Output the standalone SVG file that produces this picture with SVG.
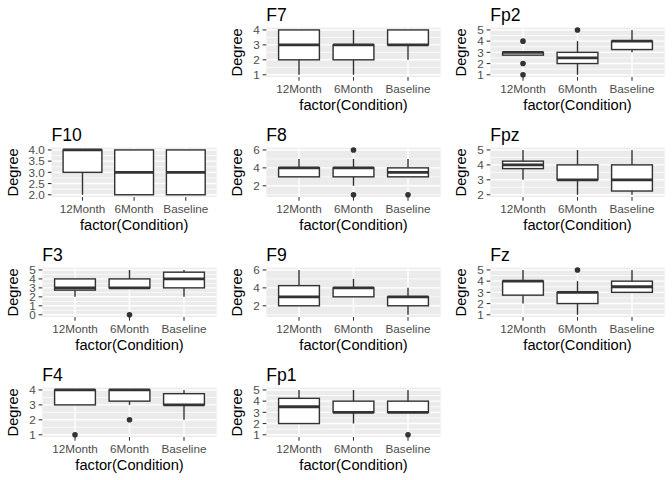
<svg xmlns="http://www.w3.org/2000/svg" width="672" height="480" viewBox="0 0 672 480">
<style>
text{font-family:"Liberation Sans",Arial,sans-serif}
.bg{fill:#EBEBEB}
.gm{stroke:#FFFFFF;stroke-width:1.42}
.gn{stroke:#FFFFFF;stroke-width:0.71}
.tk{stroke:#333333;stroke-width:1.07}
.wk{stroke:#333333;stroke-width:1.42}
.bx{fill:#FFFFFF;stroke:#333333;stroke-width:1.42}
.md{stroke:#333333;stroke-width:2.84}
.ol{fill:#333333}
.tt{font-size:17.6px;fill:#000}
.at{font-size:14.67px;fill:#000}
.yl{font-size:11.73px;fill:#4D4D4D;text-anchor:end}
.xl{font-size:11.73px;fill:#4D4D4D;text-anchor:middle}
</style>
<defs>
<g id="xaxis">
<line class="tk" x1="75" y1="77" x2="75" y2="80.67"/>
<line class="tk" x1="129.5" y1="77" x2="129.5" y2="80.67"/>
<line class="tk" x1="184" y1="77" x2="184" y2="80.67"/>
<text class="xl" x="75" y="92.5">12Month</text>
<text class="xl" x="129.5" y="92.5">6Month</text>
<text class="xl" x="184" y="92.5">Baseline</text>
<text class="at" x="129.5" y="109.5" text-anchor="middle">factor(Condition)</text>
<text class="at" transform="translate(18,52.35) rotate(-90)" text-anchor="middle">Degree</text>
<line class="gm" x1="75" y1="27.7" x2="75" y2="77"/>
<line class="gm" x1="129.5" y1="27.7" x2="129.5" y2="77"/>
<line class="gm" x1="184" y1="27.7" x2="184" y2="77"/>
</g>
</defs>

<g id="F7" transform="translate(224,0)">
<text class="tt" x="42.3" y="20.5">F7</text>
<rect class="bg" x="42.3" y="27.7" width="174.4" height="49.3"/>
<line class="gn" x1="42.3" x2="216.7" y1="67.29" y2="67.29"/><line class="gn" x1="42.3" x2="216.7" y1="52.35" y2="52.35"/><line class="gn" x1="42.3" x2="216.7" y1="37.41" y2="37.41"/>
<line class="gm" x1="42.3" x2="216.7" y1="74.76" y2="74.76"/><line class="gm" x1="42.3" x2="216.7" y1="59.82" y2="59.82"/><line class="gm" x1="42.3" x2="216.7" y1="44.88" y2="44.88"/><line class="gm" x1="42.3" x2="216.7" y1="29.94" y2="29.94"/>
<use href="#xaxis"/>
<line class="tk" x1="38.63" x2="42.3" y1="74.76" y2="74.76"/><line class="tk" x1="38.63" x2="42.3" y1="59.82" y2="59.82"/><line class="tk" x1="38.63" x2="42.3" y1="44.88" y2="44.88"/><line class="tk" x1="38.63" x2="42.3" y1="29.94" y2="29.94"/>
<text class="yl" x="35.7" y="78.96">1</text><text class="yl" x="35.7" y="64.02">2</text><text class="yl" x="35.7" y="49.08">3</text><text class="yl" x="35.7" y="34.14">4</text>
<line class="wk" x1="75" y1="59.82" x2="75" y2="74.76"/><rect class="bx" x="54.6" y="29.94" width="40.8" height="29.88"/><line class="md" x1="54.6" x2="95.4" y1="44.88" y2="44.88"/>
<line class="wk" x1="129.5" y1="29.94" x2="129.5" y2="74.76"/><rect class="bx" x="109.1" y="44.88" width="40.8" height="14.94"/><line class="md" x1="109.1" x2="149.9" y1="44.88" y2="44.88"/>
<line class="wk" x1="184" y1="44.88" x2="184" y2="59.82"/><rect class="bx" x="163.6" y="29.94" width="40.8" height="14.94"/><line class="md" x1="163.6" x2="204.4" y1="44.88" y2="44.88"/>
</g>

<g id="Fp2" transform="translate(448,0)">
<text class="tt" x="42.3" y="20.5">Fp2</text>
<rect class="bg" x="42.3" y="27.7" width="174.4" height="49.3"/>
<line class="gn" x1="42.3" x2="216.7" y1="69.16" y2="69.16"/><line class="gn" x1="42.3" x2="216.7" y1="57.95" y2="57.95"/><line class="gn" x1="42.3" x2="216.7" y1="46.75" y2="46.75"/><line class="gn" x1="42.3" x2="216.7" y1="35.54" y2="35.54"/>
<line class="gm" x1="42.3" x2="216.7" y1="74.76" y2="74.76"/><line class="gm" x1="42.3" x2="216.7" y1="63.55" y2="63.55"/><line class="gm" x1="42.3" x2="216.7" y1="52.35" y2="52.35"/><line class="gm" x1="42.3" x2="216.7" y1="41.15" y2="41.15"/><line class="gm" x1="42.3" x2="216.7" y1="29.94" y2="29.94"/>
<use href="#xaxis"/>
<line class="tk" x1="38.63" x2="42.3" y1="74.76" y2="74.76"/><line class="tk" x1="38.63" x2="42.3" y1="63.55" y2="63.55"/><line class="tk" x1="38.63" x2="42.3" y1="52.35" y2="52.35"/><line class="tk" x1="38.63" x2="42.3" y1="41.15" y2="41.15"/><line class="tk" x1="38.63" x2="42.3" y1="29.94" y2="29.94"/>
<text class="yl" x="35.7" y="78.96">1</text><text class="yl" x="35.7" y="67.75">2</text><text class="yl" x="35.7" y="56.55">3</text><text class="yl" x="35.7" y="45.35">4</text><text class="yl" x="35.7" y="34.14">5</text>
<rect class="bx" x="54.6" y="52.35" width="40.8" height="2.8"/><line class="md" x1="54.6" x2="95.4" y1="52.35" y2="52.35"/>
<circle class="ol" cx="75" cy="41.15" r="2.8"/><circle class="ol" cx="75" cy="63.55" r="2.8"/><circle class="ol" cx="75" cy="74.76" r="2.8"/>
<line class="wk" x1="129.5" y1="41.15" x2="129.5" y2="74.76"/><rect class="bx" x="109.1" y="52.35" width="40.8" height="11.2"/><line class="md" x1="109.1" x2="149.9" y1="57.95" y2="57.95"/>
<circle class="ol" cx="129.5" cy="29.94" r="2.8"/>
<line class="wk" x1="184" y1="29.94" x2="184" y2="52.35"/><rect class="bx" x="163.6" y="41.15" width="40.8" height="8.4"/><line class="md" x1="163.6" x2="204.4" y1="41.15" y2="41.15"/>
</g>

<g id="F10" transform="translate(0,120)">
<text class="tt" x="51.5" y="20.5">F10</text>
<rect class="bg" x="51.5" y="27.7" width="165.2" height="49.3"/>
<line class="gn" x1="51.5" x2="216.7" y1="69.16" y2="69.16"/><line class="gn" x1="51.5" x2="216.7" y1="57.95" y2="57.95"/><line class="gn" x1="51.5" x2="216.7" y1="46.75" y2="46.75"/><line class="gn" x1="51.5" x2="216.7" y1="35.54" y2="35.54"/>
<line class="gm" x1="51.5" x2="216.7" y1="74.76" y2="74.76"/><line class="gm" x1="51.5" x2="216.7" y1="63.55" y2="63.55"/><line class="gm" x1="51.5" x2="216.7" y1="52.35" y2="52.35"/><line class="gm" x1="51.5" x2="216.7" y1="41.15" y2="41.15"/><line class="gm" x1="51.5" x2="216.7" y1="29.94" y2="29.94"/>
<line class="gm" x1="82.5" y1="27.7" x2="82.5" y2="77"/><line class="gm" x1="134.1" y1="27.7" x2="134.1" y2="77"/><line class="gm" x1="185.8" y1="27.7" x2="185.8" y2="77"/>
<line class="tk" x1="82.5" y1="77" x2="82.5" y2="80.67"/><line class="tk" x1="134.1" y1="77" x2="134.1" y2="80.67"/><line class="tk" x1="185.8" y1="77" x2="185.8" y2="80.67"/>
<text class="xl" x="82.5" y="92.5">12Month</text><text class="xl" x="134.1" y="92.5">6Month</text><text class="xl" x="185.8" y="92.5">Baseline</text>
<text class="at" x="134.1" y="109.5" text-anchor="middle">factor(Condition)</text>
<text class="at" transform="translate(18,52.35) rotate(-90)" text-anchor="middle">Degree</text>
<line class="tk" x1="47.83" x2="51.5" y1="74.76" y2="74.76"/><line class="tk" x1="47.83" x2="51.5" y1="63.55" y2="63.55"/><line class="tk" x1="47.83" x2="51.5" y1="52.35" y2="52.35"/><line class="tk" x1="47.83" x2="51.5" y1="41.15" y2="41.15"/><line class="tk" x1="47.83" x2="51.5" y1="29.94" y2="29.94"/>
<text class="yl" x="44.9" y="78.96">2.0</text><text class="yl" x="44.9" y="67.75">2.5</text><text class="yl" x="44.9" y="56.55">3.0</text><text class="yl" x="44.9" y="45.35">3.5</text><text class="yl" x="44.9" y="34.14">4.0</text>
<line class="wk" x1="82.5" y1="52.35" x2="82.5" y2="74.76"/><rect class="bx" x="63.1" y="29.94" width="38.8" height="22.41"/><line class="md" x1="63.1" x2="101.9" y1="29.94" y2="29.94"/>
<rect class="bx" x="114.7" y="29.94" width="38.8" height="44.82"/><line class="md" x1="114.7" x2="153.5" y1="52.35" y2="52.35"/>
<rect class="bx" x="166.4" y="29.94" width="38.8" height="44.82"/><line class="md" x1="166.4" x2="205.2" y1="52.35" y2="52.35"/>
</g>

<g id="F8" transform="translate(224,120)">
<text class="tt" x="42.3" y="20.5">F8</text>
<rect class="bg" x="42.3" y="27.7" width="174.4" height="49.3"/>
<line class="gn" x1="42.3" x2="216.7" y1="74.76" y2="74.76"/><line class="gn" x1="42.3" x2="216.7" y1="56.83" y2="56.83"/><line class="gn" x1="42.3" x2="216.7" y1="38.9" y2="38.9"/>
<line class="gm" x1="42.3" x2="216.7" y1="65.8" y2="65.8"/><line class="gm" x1="42.3" x2="216.7" y1="47.87" y2="47.87"/><line class="gm" x1="42.3" x2="216.7" y1="29.94" y2="29.94"/>
<use href="#xaxis"/>
<line class="tk" x1="38.63" x2="42.3" y1="65.8" y2="65.8"/><line class="tk" x1="38.63" x2="42.3" y1="47.87" y2="47.87"/><line class="tk" x1="38.63" x2="42.3" y1="29.94" y2="29.94"/>
<text class="yl" x="35.7" y="70">2</text><text class="yl" x="35.7" y="52.07">4</text><text class="yl" x="35.7" y="34.14">6</text>
<line class="wk" x1="75" y1="38.9" x2="75" y2="47.87"/><rect class="bx" x="54.6" y="47.87" width="40.8" height="8.96"/><line class="md" x1="54.6" x2="95.4" y1="47.87" y2="47.87"/>
<line class="wk" x1="129.5" y1="38.9" x2="129.5" y2="65.8"/><rect class="bx" x="109.1" y="47.87" width="40.8" height="8.96"/><line class="md" x1="109.1" x2="149.9" y1="47.87" y2="47.87"/>
<circle class="ol" cx="129.5" cy="29.94" r="2.8"/><circle class="ol" cx="129.5" cy="74.76" r="2.8"/>
<line class="wk" x1="184" y1="38.9" x2="184" y2="47.87"/><rect class="bx" x="163.6" y="47.87" width="40.8" height="8.96"/><line class="md" x1="163.6" x2="204.4" y1="52.35" y2="52.35"/>
<circle class="ol" cx="184" cy="74.76" r="2.8"/>
</g>

<g id="Fpz" transform="translate(448,120)">
<text class="tt" x="42.3" y="20.5">Fpz</text>
<rect class="bg" x="42.3" y="27.7" width="174.4" height="49.3"/>
<line class="gn" x1="42.3" x2="216.7" y1="67.29" y2="67.29"/><line class="gn" x1="42.3" x2="216.7" y1="52.35" y2="52.35"/><line class="gn" x1="42.3" x2="216.7" y1="37.41" y2="37.41"/>
<line class="gm" x1="42.3" x2="216.7" y1="74.76" y2="74.76"/><line class="gm" x1="42.3" x2="216.7" y1="59.82" y2="59.82"/><line class="gm" x1="42.3" x2="216.7" y1="44.88" y2="44.88"/><line class="gm" x1="42.3" x2="216.7" y1="29.94" y2="29.94"/>
<use href="#xaxis"/>
<line class="tk" x1="38.63" x2="42.3" y1="74.76" y2="74.76"/><line class="tk" x1="38.63" x2="42.3" y1="59.82" y2="59.82"/><line class="tk" x1="38.63" x2="42.3" y1="44.88" y2="44.88"/><line class="tk" x1="38.63" x2="42.3" y1="29.94" y2="29.94"/>
<text class="yl" x="35.7" y="78.96">2</text><text class="yl" x="35.7" y="64.02">3</text><text class="yl" x="35.7" y="49.08">4</text><text class="yl" x="35.7" y="34.14">5</text>
<line class="wk" x1="75" y1="29.94" x2="75" y2="59.82"/><rect class="bx" x="54.6" y="41.15" width="40.8" height="7.47"/><line class="md" x1="54.6" x2="95.4" y1="44.88" y2="44.88"/>
<line class="wk" x1="129.5" y1="29.94" x2="129.5" y2="74.76"/><rect class="bx" x="109.1" y="44.88" width="40.8" height="14.94"/><line class="md" x1="109.1" x2="149.9" y1="59.82" y2="59.82"/>
<line class="wk" x1="184" y1="29.94" x2="184" y2="74.76"/><rect class="bx" x="163.6" y="44.88" width="40.8" height="26.14"/><line class="md" x1="163.6" x2="204.4" y1="59.82" y2="59.82"/>
</g>

<g id="F3" transform="translate(0,240)">
<text class="tt" x="42.3" y="20.5">F3</text>
<rect class="bg" x="42.3" y="27.7" width="174.4" height="49.3"/>
<line class="gn" x1="42.3" x2="216.7" y1="70.28" y2="70.28"/><line class="gn" x1="42.3" x2="216.7" y1="61.31" y2="61.31"/><line class="gn" x1="42.3" x2="216.7" y1="52.35" y2="52.35"/><line class="gn" x1="42.3" x2="216.7" y1="43.39" y2="43.39"/><line class="gn" x1="42.3" x2="216.7" y1="34.42" y2="34.42"/>
<line class="gm" x1="42.3" x2="216.7" y1="74.76" y2="74.76"/><line class="gm" x1="42.3" x2="216.7" y1="65.8" y2="65.8"/><line class="gm" x1="42.3" x2="216.7" y1="56.83" y2="56.83"/><line class="gm" x1="42.3" x2="216.7" y1="47.87" y2="47.87"/><line class="gm" x1="42.3" x2="216.7" y1="38.9" y2="38.9"/><line class="gm" x1="42.3" x2="216.7" y1="29.94" y2="29.94"/>
<use href="#xaxis"/>
<line class="tk" x1="38.63" x2="42.3" y1="74.76" y2="74.76"/><line class="tk" x1="38.63" x2="42.3" y1="65.8" y2="65.8"/><line class="tk" x1="38.63" x2="42.3" y1="56.83" y2="56.83"/><line class="tk" x1="38.63" x2="42.3" y1="47.87" y2="47.87"/><line class="tk" x1="38.63" x2="42.3" y1="38.9" y2="38.9"/><line class="tk" x1="38.63" x2="42.3" y1="29.94" y2="29.94"/>
<text class="yl" x="35.7" y="78.96">0</text><text class="yl" x="35.7" y="70">1</text><text class="yl" x="35.7" y="61.03">2</text><text class="yl" x="35.7" y="52.07">3</text><text class="yl" x="35.7" y="43.1">4</text><text class="yl" x="35.7" y="34.14">5</text>
<line class="wk" x1="75" y1="50.11" x2="75" y2="56.83"/><rect class="bx" x="54.6" y="38.9" width="40.8" height="11.21"/><line class="md" x1="54.6" x2="95.4" y1="47.87" y2="47.87"/>
<line class="wk" x1="129.5" y1="29.94" x2="129.5" y2="47.87"/><rect class="bx" x="109.1" y="38.9" width="40.8" height="8.97"/><line class="md" x1="109.1" x2="149.9" y1="47.87" y2="47.87"/>
<circle class="ol" cx="129.5" cy="74.76" r="2.8"/>
<line class="wk" x1="184" y1="29.94" x2="184" y2="56.83"/><rect class="bx" x="163.6" y="32.18" width="40.8" height="15.69"/><line class="md" x1="163.6" x2="204.4" y1="38.9" y2="38.9"/>
</g>

<g id="F9" transform="translate(224,240)">
<text class="tt" x="42.3" y="20.5">F9</text>
<rect class="bg" x="42.3" y="27.7" width="174.4" height="49.3"/>
<line class="gn" x1="42.3" x2="216.7" y1="74.76" y2="74.76"/><line class="gn" x1="42.3" x2="216.7" y1="56.83" y2="56.83"/><line class="gn" x1="42.3" x2="216.7" y1="38.9" y2="38.9"/>
<line class="gm" x1="42.3" x2="216.7" y1="65.8" y2="65.8"/><line class="gm" x1="42.3" x2="216.7" y1="47.87" y2="47.87"/><line class="gm" x1="42.3" x2="216.7" y1="29.94" y2="29.94"/>
<use href="#xaxis"/>
<line class="tk" x1="38.63" x2="42.3" y1="65.8" y2="65.8"/><line class="tk" x1="38.63" x2="42.3" y1="47.87" y2="47.87"/><line class="tk" x1="38.63" x2="42.3" y1="29.94" y2="29.94"/>
<text class="yl" x="35.7" y="70">2</text><text class="yl" x="35.7" y="52.07">4</text><text class="yl" x="35.7" y="34.14">6</text>
<line class="wk" x1="75" y1="29.94" x2="75" y2="45.63"/><rect class="bx" x="54.6" y="45.63" width="40.8" height="20.17"/><line class="md" x1="54.6" x2="95.4" y1="56.83" y2="56.83"/>
<line class="wk" x1="129.5" y1="38.9" x2="129.5" y2="47.87"/><rect class="bx" x="109.1" y="47.87" width="40.8" height="8.96"/><line class="md" x1="109.1" x2="149.9" y1="47.87" y2="47.87"/>
<line class="wk" x1="184" y1="47.87" x2="184" y2="74.76"/><rect class="bx" x="163.6" y="56.83" width="40.8" height="8.97"/><line class="md" x1="163.6" x2="204.4" y1="56.83" y2="56.83"/>
</g>

<g id="Fz" transform="translate(448,240)">
<text class="tt" x="42.3" y="20.5">Fz</text>
<rect class="bg" x="42.3" y="27.7" width="174.4" height="49.3"/>
<line class="gn" x1="42.3" x2="216.7" y1="69.16" y2="69.16"/><line class="gn" x1="42.3" x2="216.7" y1="57.95" y2="57.95"/><line class="gn" x1="42.3" x2="216.7" y1="46.75" y2="46.75"/><line class="gn" x1="42.3" x2="216.7" y1="35.54" y2="35.54"/>
<line class="gm" x1="42.3" x2="216.7" y1="74.76" y2="74.76"/><line class="gm" x1="42.3" x2="216.7" y1="63.55" y2="63.55"/><line class="gm" x1="42.3" x2="216.7" y1="52.35" y2="52.35"/><line class="gm" x1="42.3" x2="216.7" y1="41.15" y2="41.15"/><line class="gm" x1="42.3" x2="216.7" y1="29.94" y2="29.94"/>
<use href="#xaxis"/>
<line class="tk" x1="38.63" x2="42.3" y1="74.76" y2="74.76"/><line class="tk" x1="38.63" x2="42.3" y1="63.55" y2="63.55"/><line class="tk" x1="38.63" x2="42.3" y1="52.35" y2="52.35"/><line class="tk" x1="38.63" x2="42.3" y1="41.15" y2="41.15"/><line class="tk" x1="38.63" x2="42.3" y1="29.94" y2="29.94"/>
<text class="yl" x="35.7" y="78.96">1</text><text class="yl" x="35.7" y="67.75">2</text><text class="yl" x="35.7" y="56.55">3</text><text class="yl" x="35.7" y="45.35">4</text><text class="yl" x="35.7" y="34.14">5</text>
<line class="wk" x1="75" y1="29.94" x2="75" y2="63.55"/><rect class="bx" x="54.6" y="41.15" width="40.8" height="14"/><line class="md" x1="54.6" x2="95.4" y1="41.15" y2="41.15"/>
<line class="wk" x1="129.5" y1="41.15" x2="129.5" y2="74.76"/><rect class="bx" x="109.1" y="52.35" width="40.8" height="11.2"/><line class="md" x1="109.1" x2="149.9" y1="52.35" y2="52.35"/>
<circle class="ol" cx="129.5" cy="29.94" r="2.8"/>
<line class="wk" x1="184" y1="29.94" x2="184" y2="52.35"/><rect class="bx" x="163.6" y="41.15" width="40.8" height="11.2"/><line class="md" x1="163.6" x2="204.4" y1="46.75" y2="46.75"/>
</g>

<g id="F4" transform="translate(0,360)">
<text class="tt" x="42.3" y="20.5">F4</text>
<rect class="bg" x="42.3" y="27.7" width="174.4" height="49.3"/>
<line class="gn" x1="42.3" x2="216.7" y1="67.29" y2="67.29"/><line class="gn" x1="42.3" x2="216.7" y1="52.35" y2="52.35"/><line class="gn" x1="42.3" x2="216.7" y1="37.41" y2="37.41"/>
<line class="gm" x1="42.3" x2="216.7" y1="74.76" y2="74.76"/><line class="gm" x1="42.3" x2="216.7" y1="59.82" y2="59.82"/><line class="gm" x1="42.3" x2="216.7" y1="44.88" y2="44.88"/><line class="gm" x1="42.3" x2="216.7" y1="29.94" y2="29.94"/>
<use href="#xaxis"/>
<line class="tk" x1="38.63" x2="42.3" y1="74.76" y2="74.76"/><line class="tk" x1="38.63" x2="42.3" y1="59.82" y2="59.82"/><line class="tk" x1="38.63" x2="42.3" y1="44.88" y2="44.88"/><line class="tk" x1="38.63" x2="42.3" y1="29.94" y2="29.94"/>
<text class="yl" x="35.7" y="78.96">1</text><text class="yl" x="35.7" y="64.02">2</text><text class="yl" x="35.7" y="49.08">3</text><text class="yl" x="35.7" y="34.14">4</text>
<rect class="bx" x="54.6" y="29.94" width="40.8" height="14.94"/><line class="md" x1="54.6" x2="95.4" y1="29.94" y2="29.94"/>
<circle class="ol" cx="75" cy="74.76" r="2.8"/>
<line class="wk" x1="129.5" y1="29.94" x2="129.5" y2="44.88"/><rect class="bx" x="109.1" y="29.94" width="40.8" height="11.21"/><line class="md" x1="109.1" x2="149.9" y1="29.94" y2="29.94"/>
<circle class="ol" cx="129.5" cy="59.82" r="2.8"/>
<line class="wk" x1="184" y1="29.94" x2="184" y2="59.82"/><rect class="bx" x="163.6" y="33.68" width="40.8" height="11.2"/><line class="md" x1="163.6" x2="204.4" y1="44.88" y2="44.88"/>
</g>

<g id="Fp1" transform="translate(224,360)">
<text class="tt" x="42.3" y="20.5">Fp1</text>
<rect class="bg" x="42.3" y="27.7" width="174.4" height="49.3"/>
<line class="gn" x1="42.3" x2="216.7" y1="69.16" y2="69.16"/><line class="gn" x1="42.3" x2="216.7" y1="57.95" y2="57.95"/><line class="gn" x1="42.3" x2="216.7" y1="46.75" y2="46.75"/><line class="gn" x1="42.3" x2="216.7" y1="35.54" y2="35.54"/>
<line class="gm" x1="42.3" x2="216.7" y1="74.76" y2="74.76"/><line class="gm" x1="42.3" x2="216.7" y1="63.55" y2="63.55"/><line class="gm" x1="42.3" x2="216.7" y1="52.35" y2="52.35"/><line class="gm" x1="42.3" x2="216.7" y1="41.15" y2="41.15"/><line class="gm" x1="42.3" x2="216.7" y1="29.94" y2="29.94"/>
<use href="#xaxis"/>
<line class="tk" x1="38.63" x2="42.3" y1="74.76" y2="74.76"/><line class="tk" x1="38.63" x2="42.3" y1="63.55" y2="63.55"/><line class="tk" x1="38.63" x2="42.3" y1="52.35" y2="52.35"/><line class="tk" x1="38.63" x2="42.3" y1="41.15" y2="41.15"/><line class="tk" x1="38.63" x2="42.3" y1="29.94" y2="29.94"/>
<text class="yl" x="35.7" y="78.96">1</text><text class="yl" x="35.7" y="67.75">2</text><text class="yl" x="35.7" y="56.55">3</text><text class="yl" x="35.7" y="45.35">4</text><text class="yl" x="35.7" y="34.14">5</text>
<line class="wk" x1="75" y1="29.94" x2="75" y2="38.34"/><rect class="bx" x="54.6" y="38.34" width="40.8" height="25.21"/><line class="md" x1="54.6" x2="95.4" y1="46.75" y2="46.75"/>
<line class="wk" x1="129.5" y1="29.94" x2="129.5" y2="63.55"/><rect class="bx" x="109.1" y="41.15" width="40.8" height="11.2"/><line class="md" x1="109.1" x2="149.9" y1="52.35" y2="52.35"/>
<line class="wk" x1="184" y1="29.94" x2="184" y2="52.35"/><rect class="bx" x="163.6" y="41.15" width="40.8" height="11.2"/><line class="md" x1="163.6" x2="204.4" y1="52.35" y2="52.35"/>
<circle class="ol" cx="184" cy="74.76" r="2.8"/>
</g>
</svg>
